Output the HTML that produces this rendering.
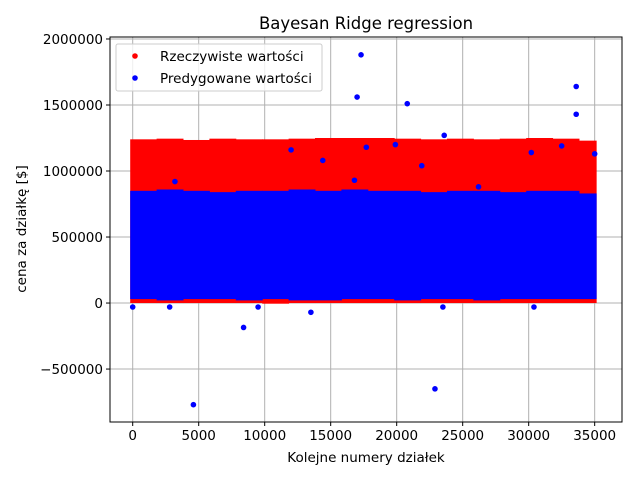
<!DOCTYPE html>
<html><head><meta charset="utf-8"><style>
body{margin:0;background:#fff}
svg{font-family:"DejaVu Sans","Liberation Sans",sans-serif}
</style></head><body>
<svg id="chart" width="640" height="480">
<rect width="640" height="480" fill="#fff"/>
<g id="grid"></g>
<g id="bands"></g>
<g id="pts"></g>
<rect x="110" y="37" width="512" height="385" fill="none" stroke="#000" stroke-width="1"/>
<g id="ticks"></g>
<text x="366" y="29" text-anchor="middle" font-size="16.5">Bayesan Ridge regression</text>
<text x="366" y="462" text-anchor="middle" font-size="13.5">Kolejne numery działek</text>
<text transform="translate(26,229) rotate(-90)" text-anchor="middle" font-size="13.5">cena za działkę [$]</text>
<g>
<rect x="116" y="44" width="206" height="47" rx="2" fill="#fff" fill-opacity="0.8" stroke="#ccc"/>
<circle cx="135" cy="56" r="2.8" fill="#ff0000"/>
<text x="160" y="61" font-size="13.5">Rzeczywiste wartości</text>
<circle cx="135" cy="78" r="2.8" fill="#0000ff"/>
<text x="160" y="83" font-size="13.5">Predygowane wartości</text>
</g>
</svg>
<script>
const xTicks=[0,5000,10000,15000,20000,25000,30000,35000];
const yTicks=[-500000,0,500000,1000000,1500000,2000000];
const yTickLabels=["\u2212500000","0","500000","1000000","1500000","2000000"];
const binStart=[0,2000,4000,6000,8000,10000,12000,14000,16000,18000,20000,22000,24000,26000,28000,30000,32000,34000];
const binEnd=[2000,4000,6000,8000,10000,12000,14000,16000,18000,20000,22000,24000,26000,28000,30000,32000,34000,35300];
const redTop=[1240000,1245000,1235000,1245000,1240000,1240000,1245000,1250000,1250000,1250000,1245000,1240000,1245000,1240000,1245000,1250000,1245000,1230000];
const redBottom=[0,0,0,0,0,-5000,0,0,0,0,0,0,0,0,0,0,0,0];
const blueTop=[850000,860000,850000,840000,850000,850000,860000,850000,860000,850000,850000,840000,850000,850000,840000,850000,850000,830000];
const blueBottom=[30000,20000,30000,30000,20000,30000,20000,20000,30000,30000,20000,30000,30000,20000,30000,30000,30000,30000];
const outX=[4600,8400,13500,22900,17300,17000,20800,33600,33600,23600,19900,12000,35000,17700,21900,14400,30200,32500,2800,0,9500,23500,30400,16800,26200,3200];
const outY=[-770000,-185000,-70000,-650000,1880000,1560000,1510000,1640000,1430000,1270000,1200000,1160000,1130000,1180000,1040000,1080000,1140000,1190000,-30000,-30000,-30000,-30000,-30000,930000,880000,920000];
const X0=-1720,X1=37070,Y0=-901000,Y1=2015000,L=110,R=622,T=37,B=422;
const sx=v=>L+(v-X0)/(X1-X0)*(R-L);
const sy=v=>B-(v-Y0)/(Y1-Y0)*(B-T);
const NS="http://www.w3.org/2000/svg";
function mk(tag,attrs,parent){const e=document.createElementNS(NS,tag);for(const k in attrs)e.setAttribute(k,attrs[k]);document.getElementById(parent).appendChild(e);return e;}
xTicks.forEach(v=>{
 const g=mk('line',{x1:sx(v),x2:sx(v),y1:T,y2:B,stroke:'#b0b0b0','stroke-width':1},'grid');
 
 
 const t=mk('line',{x1:sx(v),x2:sx(v),y1:B,y2:B+4,stroke:'#000'},'ticks');
 
 
 const l=mk('text',{x:sx(v),y:B+18,'text-anchor':'middle','font-size':'13.5'},'ticks');l.textContent=v;
 
 
});
yTicks.forEach((v,i)=>{
 const g=mk('line',{x1:L,x2:R,y1:sy(v),y2:sy(v),stroke:'#b0b0b0','stroke-width':1},'grid');
 
 
 const t=mk('line',{x1:L-4,x2:L,y1:sy(v),y2:sy(v),stroke:'#000'},'ticks');
 
 
 const l=mk('text',{x:L-7,y:sy(v)+5,'text-anchor':'end','font-size':'13.5'},'ticks');l.textContent=yTickLabels[i];
 
 
});
binStart.forEach((s,i)=>{
 const x=sx(s)-2.5,w=sx(binEnd[i])-sx(s)+0.5;
 const r=mk('rect',{x:x,y:sy(redTop[i]),width:w,height:sy(redBottom[i])-sy(redTop[i]),fill:'#ff0000'},'bands');
 
 
});
binStart.forEach((s,i)=>{
 const x=sx(s)-2.5,w=sx(binEnd[i])-sx(s)+0.5;
 const b=mk('rect',{x:x,y:sy(blueTop[i]),width:w,height:sy(blueBottom[i])-sy(blueTop[i]),fill:'#0000ff'},'bands');
 
 
});
outX.forEach((v,i)=>{
 const c=mk('circle',{cx:sx(v),cy:sy(outY[i]),r:2.8,fill:'#0000ff'},'pts');
 
 
});
</script>
</body></html>
